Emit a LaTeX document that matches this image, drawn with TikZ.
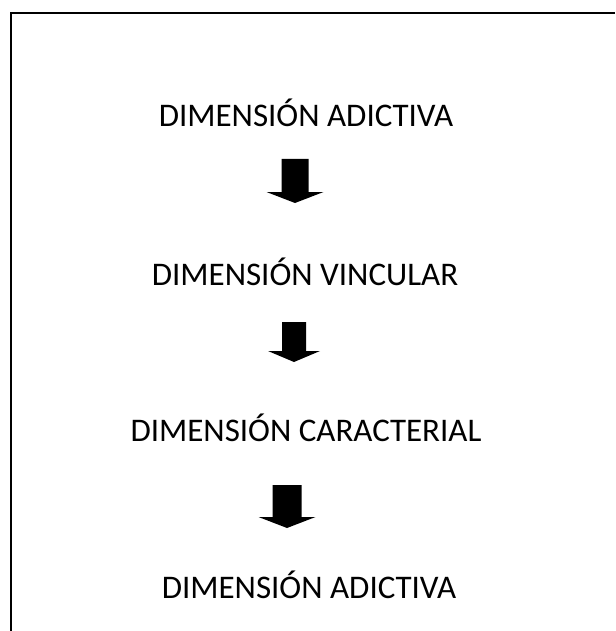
\documentclass[tikz,border=0pt]{standalone}
\usepackage{fontspec}
\setmainfont{Carlito}

\tikzset{
  dimlabel/.style={anchor=base, inner sep=0pt, font=\fontsize{33}{36}\selectfont},
  blockarrow/.style={fill=black, draw=none},
}

\begin{document}
\begin{tikzpicture}[x=1pt,y=-1pt]
  \useasboundingbox (0,0) rectangle (615,631);

  % frame (open on the right and at the bottom)
  \draw[line width=2pt] (615,13) -- (10.5,13) -- (10.5,631);

  % the four levels
  \node[dimlabel] (adict) at (306,127) {DIMENSIÓN ADICTIVA};
  \node[dimlabel] (vinc)  at (305,285) {DIMENSIÓN VINCULAR};
  \node[dimlabel] (carac) at (306,441) {DIMENSIÓN CARACTERIAL};
  \node[dimlabel] (adictb) at (309,598) {DIMENSIÓN ADICTIVA};

  % block arrows in between: centre x / top / tip / half shaft / half head
  \foreach \cx/\top/\tip/\sh/\hd in {295/159/203/13.5/28.5, 294/322/362/12/26, 287/485/528/14.5/28.5}
  {
    \fill[blockarrow] (\cx-\sh,\top) -- (\cx+\sh,\top) -- (\cx+\sh,\tip-11)
      -- (\cx+\hd,\tip-11) -- (\cx,\tip) -- (\cx-\hd,\tip-11)
      -- (\cx-\sh,\tip-11) -- cycle;
  }

\end{tikzpicture}
\end{document}
